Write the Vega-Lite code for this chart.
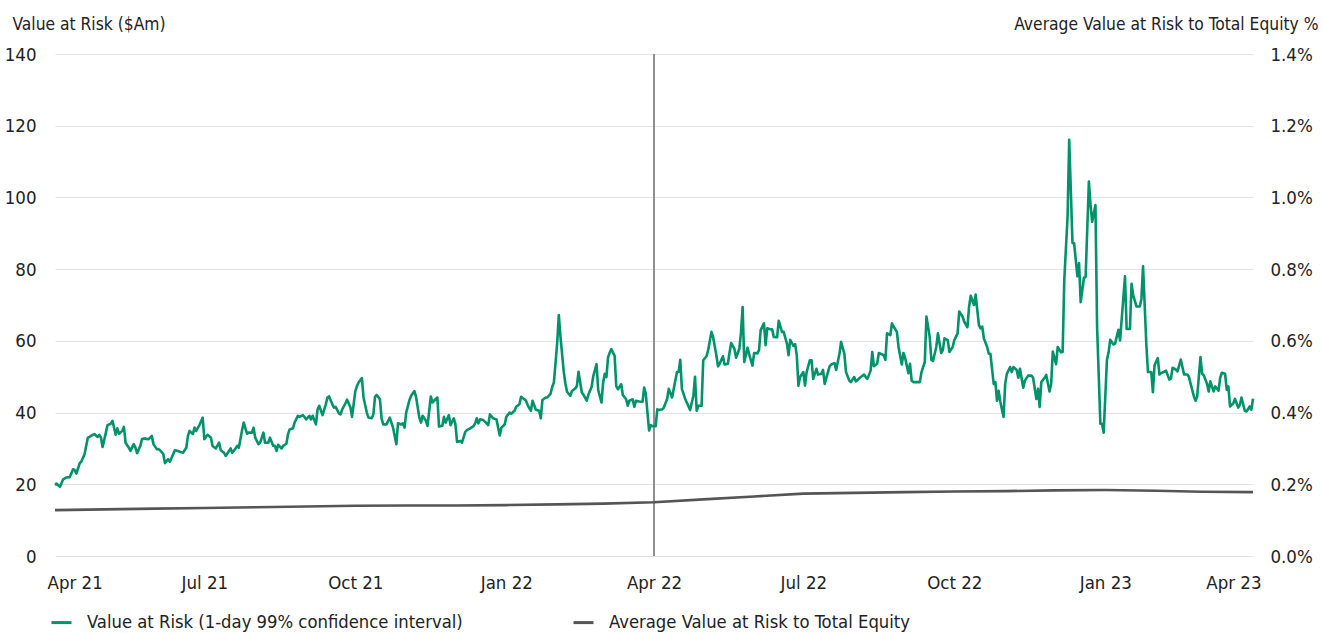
{
  "$schema": "https://vega.github.io/schema/vega-lite/v6.json",
  "width": 1198,
  "height": 502,
  "autosize": {"type": "none"},
  "padding": {"left": 55, "top": 54, "right": 70, "bottom": 77},
  "background": "white",
  "config": {
    "font": "DejaVu Sans Condensed, sans-serif",
    "view": {"stroke": null},
    "axis": {"labelFont": "DejaVu Sans Condensed, sans-serif", "labelFontSize": 18.5, "labelColor": "#222222", "titleFont": "DejaVu Sans Condensed, sans-serif", "titleFontSize": 17.3, "titleFontWeight": "normal", "titleColor": "#222222", "domain": false, "ticks": false, "tickSize": 0},
    "legend": {"labelFont": "DejaVu Sans Condensed, sans-serif", "labelFontSize": 18.3, "labelColor": "#222222"}
  },
  "datasets": {
    "var": [
      {"date": "2021-04-01", "var": 19.8}, {"date": "2021-04-02", "var": 20.2}, {"date": "2021-04-04", "var": 19.3}, {"date": "2021-04-06", "var": 21.4}, {"date": "2021-04-08", "var": 21.9}, {"date": "2021-04-10", "var": 22.0}, {"date": "2021-04-12", "var": 24.2}, {"date": "2021-04-13", "var": 24.0}, {"date": "2021-04-14", "var": 23.0}, {"date": "2021-04-16", "var": 25.8}, {"date": "2021-04-17", "var": 26.3}, {"date": "2021-04-19", "var": 28.4}, {"date": "2021-04-21", "var": 33.0}, {"date": "2021-04-22", "var": 33.2}, {"date": "2021-04-24", "var": 33.8}, {"date": "2021-04-25", "var": 34.0}, {"date": "2021-04-27", "var": 33.2}, {"date": "2021-04-28", "var": 33.8}, {"date": "2021-04-29", "var": 33.0}, {"date": "2021-04-30", "var": 30.4},
      {"date": "2021-05-02", "var": 34.4}, {"date": "2021-05-03", "var": 36.5}, {"date": "2021-05-05", "var": 36.9}, {"date": "2021-05-06", "var": 37.7}, {"date": "2021-05-08", "var": 33.8}, {"date": "2021-05-09", "var": 35.6}, {"date": "2021-05-10", "var": 34.1}, {"date": "2021-05-12", "var": 34.9}, {"date": "2021-05-13", "var": 36.0}, {"date": "2021-05-14", "var": 31.6}, {"date": "2021-05-16", "var": 30.2}, {"date": "2021-05-17", "var": 29.3}, {"date": "2021-05-19", "var": 31.2}, {"date": "2021-05-20", "var": 30.2}, {"date": "2021-05-21", "var": 28.7}, {"date": "2021-05-23", "var": 30.7}, {"date": "2021-05-24", "var": 32.6}, {"date": "2021-05-26", "var": 32.8}, {"date": "2021-05-27", "var": 32.6}, {"date": "2021-05-28", "var": 32.6}, {"date": "2021-05-30", "var": 33.5}, {"date": "2021-05-31", "var": 31.2},
      {"date": "2021-06-02", "var": 29.8}, {"date": "2021-06-03", "var": 29.8}, {"date": "2021-06-04", "var": 29.5}, {"date": "2021-06-06", "var": 28.4}, {"date": "2021-06-07", "var": 25.9}, {"date": "2021-06-09", "var": 27.0}, {"date": "2021-06-10", "var": 26.3}, {"date": "2021-06-12", "var": 28.4}, {"date": "2021-06-13", "var": 29.5}, {"date": "2021-06-15", "var": 29.3}, {"date": "2021-06-16", "var": 29.1}, {"date": "2021-06-18", "var": 28.8}, {"date": "2021-06-20", "var": 30.2}, {"date": "2021-06-21", "var": 33.5}, {"date": "2021-06-22", "var": 34.9}, {"date": "2021-06-24", "var": 34.0}, {"date": "2021-06-25", "var": 35.8}, {"date": "2021-06-26", "var": 34.9}, {"date": "2021-06-28", "var": 36.5}, {"date": "2021-06-30", "var": 38.6},
      {"date": "2021-07-01", "var": 32.6}, {"date": "2021-07-03", "var": 33.8}, {"date": "2021-07-05", "var": 33.0}, {"date": "2021-07-06", "var": 30.7}, {"date": "2021-07-08", "var": 30.0}, {"date": "2021-07-10", "var": 31.6}, {"date": "2021-07-11", "var": 29.5}, {"date": "2021-07-13", "var": 28.8}, {"date": "2021-07-14", "var": 27.9}, {"date": "2021-07-16", "var": 29.3}, {"date": "2021-07-17", "var": 30.0}, {"date": "2021-07-18", "var": 28.8}, {"date": "2021-07-20", "var": 30.0}, {"date": "2021-07-21", "var": 30.7}, {"date": "2021-07-22", "var": 30.2}, {"date": "2021-07-24", "var": 35.1}, {"date": "2021-07-25", "var": 37.2}, {"date": "2021-07-27", "var": 34.1}, {"date": "2021-07-28", "var": 34.4}, {"date": "2021-07-30", "var": 34.4}, {"date": "2021-07-31", "var": 35.8},
      {"date": "2021-08-01", "var": 33.0}, {"date": "2021-08-03", "var": 31.2}, {"date": "2021-08-04", "var": 31.6}, {"date": "2021-08-06", "var": 34.4}, {"date": "2021-08-07", "var": 31.6}, {"date": "2021-08-09", "var": 31.6}, {"date": "2021-08-10", "var": 33.0}, {"date": "2021-08-12", "var": 30.7}, {"date": "2021-08-13", "var": 30.7}, {"date": "2021-08-14", "var": 29.3}, {"date": "2021-08-15", "var": 31.0}, {"date": "2021-08-17", "var": 30.0}, {"date": "2021-08-18", "var": 30.7}, {"date": "2021-08-20", "var": 31.3}, {"date": "2021-08-21", "var": 34.0}, {"date": "2021-08-22", "var": 35.3}, {"date": "2021-08-24", "var": 35.6}, {"date": "2021-08-25", "var": 37.2}, {"date": "2021-08-27", "var": 39.1}, {"date": "2021-08-28", "var": 38.8}, {"date": "2021-08-30", "var": 39.3}, {"date": "2021-08-31", "var": 38.8},
      {"date": "2021-09-01", "var": 38.1}, {"date": "2021-09-03", "var": 39.1}, {"date": "2021-09-04", "var": 38.1}, {"date": "2021-09-05", "var": 39.1}, {"date": "2021-09-07", "var": 36.7}, {"date": "2021-09-08", "var": 40.9}, {"date": "2021-09-09", "var": 41.9}, {"date": "2021-09-11", "var": 39.3}, {"date": "2021-09-13", "var": 42.3}, {"date": "2021-09-14", "var": 44.2}, {"date": "2021-09-15", "var": 44.5}, {"date": "2021-09-17", "var": 42.3}, {"date": "2021-09-18", "var": 41.4}, {"date": "2021-09-19", "var": 41.6}, {"date": "2021-09-21", "var": 39.8}, {"date": "2021-09-22", "var": 39.5}, {"date": "2021-09-23", "var": 40.9}, {"date": "2021-09-25", "var": 42.6}, {"date": "2021-09-26", "var": 43.6}, {"date": "2021-09-28", "var": 41.5}, {"date": "2021-09-29", "var": 38.8},
      {"date": "2021-10-01", "var": 46.0}, {"date": "2021-10-02", "var": 47.4}, {"date": "2021-10-03", "var": 48.4}, {"date": "2021-10-05", "var": 49.6}, {"date": "2021-10-06", "var": 44.2}, {"date": "2021-10-08", "var": 40.0}, {"date": "2021-10-09", "var": 38.6}, {"date": "2021-10-11", "var": 38.4}, {"date": "2021-10-12", "var": 39.5}, {"date": "2021-10-13", "var": 44.4}, {"date": "2021-10-14", "var": 44.9}, {"date": "2021-10-16", "var": 43.7}, {"date": "2021-10-17", "var": 38.4}, {"date": "2021-10-18", "var": 36.7}, {"date": "2021-10-20", "var": 36.7}, {"date": "2021-10-22", "var": 38.6}, {"date": "2021-10-23", "var": 37.2}, {"date": "2021-10-24", "var": 35.8}, {"date": "2021-10-26", "var": 31.2}, {"date": "2021-10-27", "var": 37.0}, {"date": "2021-10-29", "var": 36.7}, {"date": "2021-10-30", "var": 37.0}, {"date": "2021-10-31", "var": 35.8},
      {"date": "2021-11-01", "var": 40.0}, {"date": "2021-11-03", "var": 43.5}, {"date": "2021-11-04", "var": 44.7}, {"date": "2021-11-06", "var": 46.0}, {"date": "2021-11-07", "var": 44.4}, {"date": "2021-11-09", "var": 38.6}, {"date": "2021-11-10", "var": 37.2}, {"date": "2021-11-11", "var": 39.1}, {"date": "2021-11-13", "var": 37.7}, {"date": "2021-11-14", "var": 36.3}, {"date": "2021-11-16", "var": 44.5}, {"date": "2021-11-17", "var": 42.8}, {"date": "2021-11-18", "var": 43.3}, {"date": "2021-11-20", "var": 44.2}, {"date": "2021-11-21", "var": 36.1}, {"date": "2021-11-23", "var": 36.3}, {"date": "2021-11-24", "var": 38.8}, {"date": "2021-11-25", "var": 37.2}, {"date": "2021-11-27", "var": 39.3}, {"date": "2021-11-28", "var": 36.5}, {"date": "2021-11-30", "var": 38.4},
      {"date": "2021-12-01", "var": 36.7}, {"date": "2021-12-02", "var": 31.8}, {"date": "2021-12-04", "var": 32.1}, {"date": "2021-12-05", "var": 31.6}, {"date": "2021-12-07", "var": 34.6}, {"date": "2021-12-08", "var": 35.1}, {"date": "2021-12-10", "var": 35.6}, {"date": "2021-12-12", "var": 36.2}, {"date": "2021-12-13", "var": 37.0}, {"date": "2021-12-14", "var": 38.4}, {"date": "2021-12-15", "var": 37.0}, {"date": "2021-12-16", "var": 38.1}, {"date": "2021-12-18", "var": 37.9}, {"date": "2021-12-20", "var": 37.0}, {"date": "2021-12-21", "var": 36.5}, {"date": "2021-12-22", "var": 39.5}, {"date": "2021-12-24", "var": 38.4}, {"date": "2021-12-26", "var": 38.1}, {"date": "2021-12-28", "var": 33.6}, {"date": "2021-12-29", "var": 35.8}, {"date": "2021-12-31", "var": 36.7},
      {"date": "2022-01-01", "var": 38.8}, {"date": "2022-01-03", "var": 40.0}, {"date": "2022-01-04", "var": 39.7}, {"date": "2022-01-06", "var": 40.5}, {"date": "2022-01-07", "var": 41.6}, {"date": "2022-01-09", "var": 42.3}, {"date": "2022-01-10", "var": 44.4}, {"date": "2022-01-12", "var": 43.7}, {"date": "2022-01-13", "var": 43.3}, {"date": "2022-01-14", "var": 42.1}, {"date": "2022-01-16", "var": 40.5}, {"date": "2022-01-17", "var": 43.3}, {"date": "2022-01-19", "var": 40.8}, {"date": "2022-01-21", "var": 40.5}, {"date": "2022-01-22", "var": 38.4}, {"date": "2022-01-23", "var": 43.5}, {"date": "2022-01-25", "var": 44.2}, {"date": "2022-01-26", "var": 44.2}, {"date": "2022-01-28", "var": 45.3}, {"date": "2022-01-29", "var": 47.2}, {"date": "2022-01-30", "var": 48.4},
      {"date": "2022-02-01", "var": 59.3}, {"date": "2022-02-02", "var": 67.2}, {"date": "2022-02-03", "var": 61.2}, {"date": "2022-02-05", "var": 51.4}, {"date": "2022-02-06", "var": 48.1}, {"date": "2022-02-07", "var": 45.8}, {"date": "2022-02-09", "var": 44.7}, {"date": "2022-02-10", "var": 46.0}, {"date": "2022-02-12", "var": 46.7}, {"date": "2022-02-13", "var": 47.4}, {"date": "2022-02-14", "var": 51.4}, {"date": "2022-02-16", "var": 45.6}, {"date": "2022-02-17", "var": 45.0}, {"date": "2022-02-19", "var": 43.3}, {"date": "2022-02-20", "var": 45.0}, {"date": "2022-02-22", "var": 47.2}, {"date": "2022-02-23", "var": 50.2}, {"date": "2022-02-25", "var": 53.5}, {"date": "2022-02-26", "var": 46.3}, {"date": "2022-02-28", "var": 42.8},
      {"date": "2022-03-01", "var": 48.4}, {"date": "2022-03-02", "var": 50.8}, {"date": "2022-03-03", "var": 49.9}, {"date": "2022-03-04", "var": 55.4}, {"date": "2022-03-05", "var": 56.7}, {"date": "2022-03-06", "var": 57.7}, {"date": "2022-03-08", "var": 55.8}, {"date": "2022-03-09", "var": 47.4}, {"date": "2022-03-10", "var": 46.5}, {"date": "2022-03-12", "var": 47.9}, {"date": "2022-03-13", "var": 44.9}, {"date": "2022-03-15", "var": 43.7}, {"date": "2022-03-16", "var": 41.9}, {"date": "2022-03-17", "var": 43.3}, {"date": "2022-03-19", "var": 43.7}, {"date": "2022-03-20", "var": 41.6}, {"date": "2022-03-21", "var": 43.3}, {"date": "2022-03-23", "var": 43.1}, {"date": "2022-03-25", "var": 43.0}, {"date": "2022-03-26", "var": 47.0}, {"date": "2022-03-27", "var": 45.2}, {"date": "2022-03-29", "var": 35.0}, {"date": "2022-03-30", "var": 36.5}, {"date": "2022-03-31", "var": 36.2},
      {"date": "2022-04-02", "var": 36.2}, {"date": "2022-04-03", "var": 40.9}, {"date": "2022-04-04", "var": 40.7}, {"date": "2022-04-06", "var": 40.9}, {"date": "2022-04-07", "var": 41.4}, {"date": "2022-04-09", "var": 43.8}, {"date": "2022-04-10", "var": 46.6}, {"date": "2022-04-12", "var": 44.2}, {"date": "2022-04-13", "var": 46.6}, {"date": "2022-04-15", "var": 51.3}, {"date": "2022-04-16", "var": 51.3}, {"date": "2022-04-17", "var": 54.7}, {"date": "2022-04-18", "var": 46.6}, {"date": "2022-04-20", "var": 43.8}, {"date": "2022-04-21", "var": 42.8}, {"date": "2022-04-23", "var": 40.7}, {"date": "2022-04-25", "var": 44.7}, {"date": "2022-04-26", "var": 50.0}, {"date": "2022-04-27", "var": 40.5}, {"date": "2022-04-28", "var": 41.9}, {"date": "2022-04-30", "var": 41.9},
      {"date": "2022-05-01", "var": 54.6}, {"date": "2022-05-03", "var": 55.7}, {"date": "2022-05-04", "var": 57.4}, {"date": "2022-05-06", "var": 62.5}, {"date": "2022-05-07", "var": 61.1}, {"date": "2022-05-09", "var": 56.0}, {"date": "2022-05-10", "var": 52.9}, {"date": "2022-05-11", "var": 53.6}, {"date": "2022-05-13", "var": 55.7}, {"date": "2022-05-14", "var": 53.4}, {"date": "2022-05-16", "var": 53.6}, {"date": "2022-05-17", "var": 56.6}, {"date": "2022-05-18", "var": 59.4}, {"date": "2022-05-20", "var": 57.8}, {"date": "2022-05-21", "var": 55.3}, {"date": "2022-05-23", "var": 57.8}, {"date": "2022-05-24", "var": 62.3}, {"date": "2022-05-25", "var": 69.4}, {"date": "2022-05-26", "var": 54.1}, {"date": "2022-05-28", "var": 58.1}, {"date": "2022-05-29", "var": 56.2}, {"date": "2022-05-31", "var": 53.1},
      {"date": "2022-06-01", "var": 56.6}, {"date": "2022-06-03", "var": 56.5}, {"date": "2022-06-04", "var": 57.4}, {"date": "2022-06-05", "var": 63.0}, {"date": "2022-06-07", "var": 64.9}, {"date": "2022-06-08", "var": 58.8}, {"date": "2022-06-09", "var": 63.5}, {"date": "2022-06-11", "var": 63.2}, {"date": "2022-06-12", "var": 63.2}, {"date": "2022-06-13", "var": 61.1}, {"date": "2022-06-15", "var": 61.0}, {"date": "2022-06-16", "var": 65.6}, {"date": "2022-06-18", "var": 62.5}, {"date": "2022-06-19", "var": 62.5}, {"date": "2022-06-21", "var": 59.2}, {"date": "2022-06-22", "var": 56.0}, {"date": "2022-06-23", "var": 60.3}, {"date": "2022-06-25", "var": 58.6}, {"date": "2022-06-26", "var": 59.1}, {"date": "2022-06-27", "var": 56.0}, {"date": "2022-06-28", "var": 47.5}, {"date": "2022-06-29", "var": 49.9},
      {"date": "2022-07-01", "var": 51.3}, {"date": "2022-07-02", "var": 47.5}, {"date": "2022-07-03", "var": 51.3}, {"date": "2022-07-05", "var": 54.6}, {"date": "2022-07-06", "var": 54.6}, {"date": "2022-07-07", "var": 49.4}, {"date": "2022-07-09", "var": 52.2}, {"date": "2022-07-10", "var": 50.6}, {"date": "2022-07-12", "var": 50.8}, {"date": "2022-07-13", "var": 51.9}, {"date": "2022-07-14", "var": 48.0}, {"date": "2022-07-16", "var": 51.3}, {"date": "2022-07-17", "var": 52.9}, {"date": "2022-07-18", "var": 53.4}, {"date": "2022-07-20", "var": 53.8}, {"date": "2022-07-21", "var": 51.9}, {"date": "2022-07-23", "var": 56.4}, {"date": "2022-07-24", "var": 59.7}, {"date": "2022-07-26", "var": 56.4}, {"date": "2022-07-27", "var": 51.3}, {"date": "2022-07-29", "var": 48.9}, {"date": "2022-07-30", "var": 48.5},
      {"date": "2022-08-01", "var": 49.9}, {"date": "2022-08-02", "var": 48.7}, {"date": "2022-08-03", "var": 49.1}, {"date": "2022-08-05", "var": 49.9}, {"date": "2022-08-07", "var": 50.6}, {"date": "2022-08-08", "var": 49.9}, {"date": "2022-08-09", "var": 49.4}, {"date": "2022-08-11", "var": 51.7}, {"date": "2022-08-12", "var": 56.9}, {"date": "2022-08-13", "var": 52.9}, {"date": "2022-08-15", "var": 53.6}, {"date": "2022-08-16", "var": 56.6}, {"date": "2022-08-17", "var": 56.4}, {"date": "2022-08-19", "var": 56.0}, {"date": "2022-08-20", "var": 54.7}, {"date": "2022-08-21", "var": 62.1}, {"date": "2022-08-23", "var": 61.6}, {"date": "2022-08-24", "var": 64.9}, {"date": "2022-08-25", "var": 64.0}, {"date": "2022-08-27", "var": 62.5}, {"date": "2022-08-28", "var": 58.3}, {"date": "2022-08-30", "var": 53.4}, {"date": "2022-08-31", "var": 56.6},
      {"date": "2022-09-01", "var": 55.3}, {"date": "2022-09-03", "var": 51.0}, {"date": "2022-09-04", "var": 53.6}, {"date": "2022-09-05", "var": 48.9}, {"date": "2022-09-06", "var": 48.5}, {"date": "2022-09-08", "var": 48.5}, {"date": "2022-09-10", "var": 48.5}, {"date": "2022-09-11", "var": 51.3}, {"date": "2022-09-13", "var": 54.1}, {"date": "2022-09-14", "var": 66.8}, {"date": "2022-09-16", "var": 61.1}, {"date": "2022-09-17", "var": 54.7}, {"date": "2022-09-18", "var": 54.4}, {"date": "2022-09-20", "var": 58.3}, {"date": "2022-09-21", "var": 62.1}, {"date": "2022-09-23", "var": 56.6}, {"date": "2022-09-24", "var": 57.4}, {"date": "2022-09-25", "var": 60.7}, {"date": "2022-09-27", "var": 60.2}, {"date": "2022-09-28", "var": 56.9}, {"date": "2022-09-30", "var": 58.3},
      {"date": "2022-10-01", "var": 60.2}, {"date": "2022-10-03", "var": 62.1}, {"date": "2022-10-04", "var": 68.2}, {"date": "2022-10-06", "var": 66.8}, {"date": "2022-10-07", "var": 65.4}, {"date": "2022-10-09", "var": 63.8}, {"date": "2022-10-10", "var": 69.6}, {"date": "2022-10-11", "var": 72.6}, {"date": "2022-10-13", "var": 70.0}, {"date": "2022-10-14", "var": 72.9}, {"date": "2022-10-15", "var": 68.6}, {"date": "2022-10-16", "var": 64.4}, {"date": "2022-10-17", "var": 63.5}, {"date": "2022-10-18", "var": 64.0}, {"date": "2022-10-19", "var": 60.7}, {"date": "2022-10-21", "var": 58.3}, {"date": "2022-10-22", "var": 56.4}, {"date": "2022-10-23", "var": 56.4}, {"date": "2022-10-25", "var": 48.0}, {"date": "2022-10-26", "var": 48.5}, {"date": "2022-10-27", "var": 43.3}, {"date": "2022-10-28", "var": 46.1}, {"date": "2022-10-29", "var": 43.1}, {"date": "2022-10-31", "var": 38.8},
      {"date": "2022-11-01", "var": 48.0}, {"date": "2022-11-02", "var": 50.8}, {"date": "2022-11-04", "var": 52.7}, {"date": "2022-11-05", "var": 51.3}, {"date": "2022-11-06", "var": 52.7}, {"date": "2022-11-08", "var": 51.9}, {"date": "2022-11-09", "var": 49.7}, {"date": "2022-11-10", "var": 52.2}, {"date": "2022-11-12", "var": 46.9}, {"date": "2022-11-13", "var": 48.9}, {"date": "2022-11-15", "var": 50.3}, {"date": "2022-11-17", "var": 50.3}, {"date": "2022-11-18", "var": 49.7}, {"date": "2022-11-20", "var": 43.8}, {"date": "2022-11-21", "var": 46.6}, {"date": "2022-11-22", "var": 41.6}, {"date": "2022-11-23", "var": 48.5}, {"date": "2022-11-25", "var": 49.7}, {"date": "2022-11-26", "var": 50.5}, {"date": "2022-11-28", "var": 45.9}, {"date": "2022-11-29", "var": 47.9}, {"date": "2022-11-30", "var": 57.0},
      {"date": "2022-12-02", "var": 53.5}, {"date": "2022-12-03", "var": 58.3}, {"date": "2022-12-05", "var": 56.8}, {"date": "2022-12-06", "var": 56.9}, {"date": "2022-12-07", "var": 76.9}, {"date": "2022-12-09", "var": 94.6}, {"date": "2022-12-10", "var": 116.1}, {"date": "2022-12-12", "var": 87.3}, {"date": "2022-12-13", "var": 87.2}, {"date": "2022-12-15", "var": 78.0}, {"date": "2022-12-16", "var": 81.7}, {"date": "2022-12-17", "var": 70.8}, {"date": "2022-12-19", "var": 77.6}, {"date": "2022-12-20", "var": 77.8}, {"date": "2022-12-22", "var": 104.4}, {"date": "2022-12-23", "var": 97.9}, {"date": "2022-12-24", "var": 93.2}, {"date": "2022-12-26", "var": 97.9}, {"date": "2022-12-27", "var": 63.8}, {"date": "2022-12-29", "var": 36.9}, {"date": "2022-12-30", "var": 36.9}, {"date": "2022-12-31", "var": 34.4},
      {"date": "2023-01-02", "var": 54.7}, {"date": "2023-01-03", "var": 56.8}, {"date": "2023-01-04", "var": 60.3}, {"date": "2023-01-06", "var": 59.0}, {"date": "2023-01-07", "var": 59.3}, {"date": "2023-01-09", "var": 63.1}, {"date": "2023-01-10", "var": 60.1}, {"date": "2023-01-11", "var": 66.1}, {"date": "2023-01-13", "var": 78.0}, {"date": "2023-01-14", "var": 63.3}, {"date": "2023-01-16", "var": 63.3}, {"date": "2023-01-17", "var": 75.9}, {"date": "2023-01-18", "var": 72.7}, {"date": "2023-01-20", "var": 69.6}, {"date": "2023-01-22", "var": 69.6}, {"date": "2023-01-23", "var": 71.7}, {"date": "2023-01-24", "var": 80.8}, {"date": "2023-01-26", "var": 59.0}, {"date": "2023-01-27", "var": 51.3}, {"date": "2023-01-29", "var": 51.3}, {"date": "2023-01-30", "var": 45.7}, {"date": "2023-01-31", "var": 53.2},
      {"date": "2023-02-02", "var": 55.2}, {"date": "2023-02-03", "var": 50.6}, {"date": "2023-02-04", "var": 51.0}, {"date": "2023-02-06", "var": 51.4}, {"date": "2023-02-07", "var": 51.7}, {"date": "2023-02-09", "var": 49.2}, {"date": "2023-02-10", "var": 49.5}, {"date": "2023-02-11", "var": 52.5}, {"date": "2023-02-13", "var": 52.0}, {"date": "2023-02-14", "var": 51.5}, {"date": "2023-02-16", "var": 54.8}, {"date": "2023-02-17", "var": 52.7}, {"date": "2023-02-18", "var": 50.6}, {"date": "2023-02-20", "var": 50.6}, {"date": "2023-02-21", "var": 49.9}, {"date": "2023-02-22", "var": 48.0}, {"date": "2023-02-24", "var": 44.5}, {"date": "2023-02-25", "var": 43.3}, {"date": "2023-02-26", "var": 44.5}, {"date": "2023-02-28", "var": 55.5},
      {"date": "2023-03-01", "var": 50.8}, {"date": "2023-03-02", "var": 50.4}, {"date": "2023-03-04", "var": 48.0}, {"date": "2023-03-05", "var": 45.9}, {"date": "2023-03-06", "var": 48.7}, {"date": "2023-03-08", "var": 45.9}, {"date": "2023-03-09", "var": 47.3}, {"date": "2023-03-11", "var": 46.1}, {"date": "2023-03-12", "var": 49.7}, {"date": "2023-03-13", "var": 51.1}, {"date": "2023-03-15", "var": 50.8}, {"date": "2023-03-16", "var": 46.4}, {"date": "2023-03-17", "var": 47.3}, {"date": "2023-03-18", "var": 41.7}, {"date": "2023-03-20", "var": 42.6}, {"date": "2023-03-21", "var": 43.8}, {"date": "2023-03-23", "var": 41.4}, {"date": "2023-03-24", "var": 42.2}, {"date": "2023-03-25", "var": 44.2}, {"date": "2023-03-27", "var": 40.5}, {"date": "2023-03-28", "var": 40.3}, {"date": "2023-03-30", "var": 41.7}, {"date": "2023-03-31", "var": 40.8}, {"date": "2023-04-01", "var": 43.9}
    ],
    "ratio": [
      {"date": "2021-04-01", "ratio": 0.128}, {"date": "2021-05-01", "ratio": 0.130}, {"date": "2021-06-01", "ratio": 0.132}, {"date": "2021-07-01", "ratio": 0.134}, {"date": "2021-08-01", "ratio": 0.136}, {"date": "2021-09-01", "ratio": 0.138}, {"date": "2021-10-01", "ratio": 0.140}, {"date": "2021-11-01", "ratio": 0.141}, {"date": "2021-12-01", "ratio": 0.141}, {"date": "2022-01-01", "ratio": 0.142}, {"date": "2022-02-01", "ratio": 0.144}, {"date": "2022-03-01", "ratio": 0.146}, {"date": "2022-04-01", "ratio": 0.150}, {"date": "2022-05-01", "ratio": 0.158}, {"date": "2022-06-01", "ratio": 0.166}, {"date": "2022-07-01", "ratio": 0.174}, {"date": "2022-08-01", "ratio": 0.176}, {"date": "2022-09-01", "ratio": 0.178}, {"date": "2022-10-01", "ratio": 0.180}, {"date": "2022-11-01", "ratio": 0.181}, {"date": "2022-12-01", "ratio": 0.183}, {"date": "2023-01-01", "ratio": 0.184}, {"date": "2023-02-01", "ratio": 0.182}, {"date": "2023-03-01", "ratio": 0.179}, {"date": "2023-04-01", "ratio": 0.178}
    ],
    "marker": [{"date": "2022-04-01"}]
  },
  "encoding": {
    "x": {
      "field": "date", "type": "temporal",
      "scale": {"type": "utc", "domain": [{"year": 2021, "month": 4, "date": 1, "utc": true}, {"year": 2023, "month": 4, "date": 1, "utc": true}]},
      "axis": {
        "title": null, "grid": false, "labelExpr": "utcFormat(datum.value, '%b %y')", "labelPadding": 17, "labelFlush": true, "labelFlushOffset": 8, "labelOverlap": false,
        "values": [
          {"year": 2021, "month": 4, "date": 1, "utc": true}, {"year": 2021, "month": 7, "date": 1, "utc": true}, {"year": 2021, "month": 10, "date": 1, "utc": true},
          {"year": 2022, "month": 1, "date": 1, "utc": true}, {"year": 2022, "month": 4, "date": 1, "utc": true}, {"year": 2022, "month": 7, "date": 1, "utc": true},
          {"year": 2022, "month": 10, "date": 1, "utc": true}, {"year": 2023, "month": 1, "date": 1, "utc": true}, {"year": 2023, "month": 4, "date": 1, "utc": true}
        ]
      }
    }
  },
  "layer": [
    {
      "data": {"name": "marker"},
      "mark": {"type": "rule", "color": "#8f8f8f", "strokeWidth": 2},
      "encoding": {}
    },
    {
      "data": {"name": "var"},
      "mark": {"type": "line", "strokeWidth": 2.6, "strokeJoin": "round"},
      "encoding": {
        "y": {
          "field": "var", "type": "quantitative",
          "scale": {"domain": [0, 140]},
          "axis": {
            "title": "Value at Risk ($Am)", "orient": "left", "values": [0, 20, 40, 60, 80, 100, 120, 140],
            "grid": true, "gridColor": "#e3e3e3", "gridWidth": 1, "labelAlign": "right", "labelPadding": 19,
            "titleAngle": 0, "titleAlign": "left", "titleBaseline": "middle", "titleX": -43, "titleY": -30
          }
        },
        "color": {
          "datum": "Value at Risk (1-day 99% confidence interval)",
          "type": "nominal",
          "scale": {"domain": ["Value at Risk (1-day 99% confidence interval)", "Average Value at Risk to Total Equity"], "range": ["#00936B", "#555555"]},
          "legend": {
            "title": null, "orient": "none", "legendX": -5, "legendY": 557, "direction": "horizontal", "columns": 2,
            "columnPadding": 104, "symbolType": "stroke", "symbolSize": 400, "symbolStrokeWidth": 3, "labelOffset": 14, "labelLimit": 600
          }
        }
      }
    },
    {
      "data": {"name": "ratio"},
      "mark": {"type": "line", "strokeWidth": 2.6},
      "encoding": {
        "y": {
          "field": "ratio", "type": "quantitative",
          "scale": {"domain": [0, 1.4]},
          "axis": {
            "title": "Average Value at Risk to Total Equity %", "orient": "right", "values": [0, 0.2, 0.4, 0.6, 0.8, 1.0, 1.2, 1.4],
            "labelExpr": "format(datum.value, '.1f') + '%'", "grid": false, "labelAlign": "left", "labelPadding": 17,
            "titleAngle": 0, "titleAlign": "right", "titleBaseline": "middle", "titleX": 65, "titleY": -30
          }
        },
        "color": {"datum": "Average Value at Risk to Total Equity", "type": "nominal"}
      }
    }
  ],
  "resolve": {"scale": {"y": "independent"}}
}
